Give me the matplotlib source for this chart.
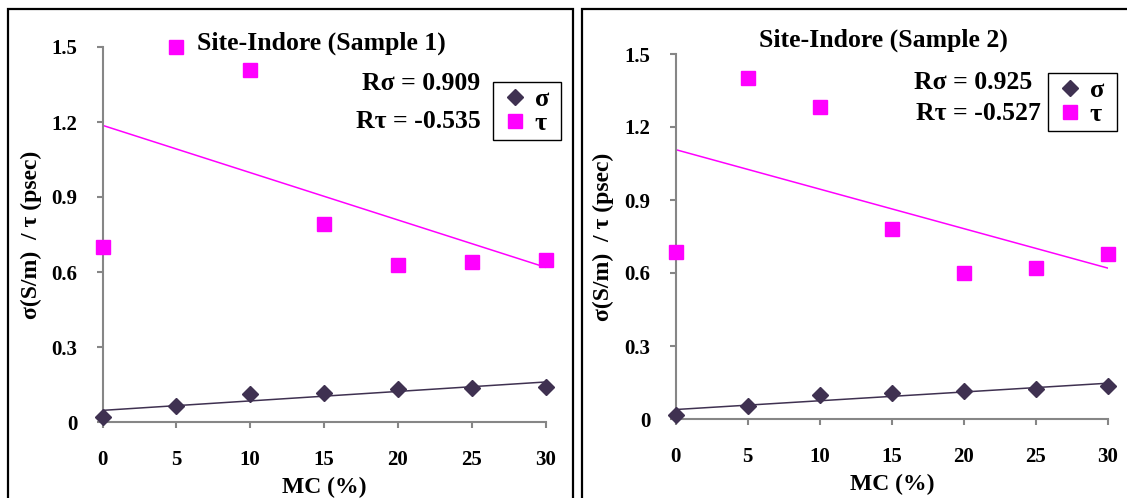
import numpy as np
import matplotlib
matplotlib.use("Agg")
import matplotlib.pyplot as plt
from matplotlib.patches import Rectangle
from matplotlib.lines import Line2D

plt.rcParams['font.family'] = ['Liberation Serif', 'DejaVu Serif']
plt.rcParams['font.weight'] = 'bold'

mc = [0, 5, 10, 15, 20, 25, 30]
sigma1 = [0.021, 0.063, 0.111, 0.117, 0.133, 0.137, 0.141]
tau1 = [0.70, 1.50, 1.41, 0.79, 0.63, 0.64, 0.65]
sigma2 = [0.018, 0.055, 0.099, 0.106, 0.114, 0.123, 0.136]
tau2 = [0.688, 1.40, 1.281, 0.780, 0.599, 0.619, 0.678]
titles = ["Site-Indore (Sample 1)", "Site-Indore (Sample 2)"]
r_sigma = ["R\u03c3 = 0.909", "R\u03c3 = 0.925"]
r_tau = ["R\u03c4 = -0.535", "R\u03c4 = -0.527"]
legend_labels = ["\u03c3 ", "\u03c4 "]
yticks = [0, 0.3, 0.6, 0.9, 1.2, 1.5]
yticklabels = ["0", "0.3", "0.6", "0.9", "1.2", "1.5"]
xticks = [0, 5, 10, 15, 20, 25, 30]

W, H = 1127, 498
fig = plt.figure(figsize=(W / 100, H / 100), dpi=100)

SIG_C = '#3F3151'
TAU_C = '#FF00FF'
GRID_C = '#868686'

def fx(px):
    return px / W

def fy(py):
    return 1 - py / H

panels = [
    dict(ax=(102.5, 422, 545.5, 47), sigma=sigma1, tau=tau1, title_xy=(321, 43),
         rs_xy=(480, 84), rt_xy=(481, 122), leg_xy=(492.7, 82), ylab_x=31,
         border=(8, 9, 573)),
    dict(ax=(675.5, 419, 1108, 54), sigma=sigma2, tau=tau2, title_xy=(883.5, 40),
         rs_xy=(1032, 82), rt_xy=(1041, 114), leg_xy=(1048, 73), ylab_x=603,
         border=(582, 9, 1140)),
]

FS_TICK = 15
FS_TITLE = 18.5
FS_R = 18.5
FS_LAB = 17
FS_LEG = 19

for i, p in enumerate(panels):
    x0, y0, x1, y1 = p['ax']
    ax = fig.add_axes([fx(x0), fy(y0), (x1 - x0) / W, (y0 - y1) / H])
    ax.set_xlim(0, 30)
    ax.set_ylim(0, 1.5)
    ax.patch.set_alpha(0)
    for s in ['top', 'right']:
        ax.spines[s].set_visible(False)
    for s in ['left', 'bottom']:
        ax.spines[s].set_color(GRID_C)
        ax.spines[s].set_linewidth(1.5)
    ax.set_xticks(xticks)
    ax.set_xticklabels([str(v) for v in xticks], fontsize=FS_TICK, fontweight='bold')
    ax.set_yticks(yticks)
    ax.set_yticklabels(yticklabels, fontsize=FS_TICK, fontweight='bold')
    ax.tick_params(axis='x', direction='out', length=4, width=1.5, color=GRID_C, pad=16)
    ax.tick_params(axis='y', direction='out', length=4, width=1.5, color=GRID_C, pad=14)

    xs = np.array(mc, dtype=float)
    # trend lines
    for ys, c in [(p['tau'], TAU_C), (p['sigma'], SIG_C)]:
        k, b = np.polyfit(xs, np.array(ys), 1)
        ax.plot([0, 30], [b, b + 30 * k], color=c, lw=1.1, zorder=2)
    ax.plot(mc, p['sigma'], 'D', color=SIG_C, ms=8.5, mec=SIG_C, clip_on=False, zorder=3)
    ax.plot(mc, p['tau'], 's', color=TAU_C, ms=10, mec=TAU_C, clip_on=False, zorder=3)

    ax.set_xlabel("MC (%)", fontsize=FS_LAB, fontweight='bold', labelpad=5)

    fig.text(fx(p['ylab_x']), fy((y0 + y1) / 2), "\u03c3(S/m)  / \u03c4 (psec)", rotation=90,
             ha='center', va='center', fontsize=FS_LAB, fontweight='bold')
    fig.text(fx(p['title_xy'][0]), fy(p['title_xy'][1]), titles[i], ha='center', va='center',
             fontsize=FS_TITLE, fontweight='bold')
    fig.text(fx(p['rs_xy'][0]), fy(p['rs_xy'][1]), r_sigma[i], ha='right', va='center',
             fontsize=FS_R, fontweight='bold')
    fig.text(fx(p['rt_xy'][0]), fy(p['rt_xy'][1]), r_tau[i], ha='right', va='center',
             fontsize=FS_R, fontweight='bold')

    handles = [Line2D([], [], marker='D', ls='', color=SIG_C, ms=8),
               Line2D([], [], marker='s', ls='', color=TAU_C, ms=10)]
    leg = fig.legend(handles, legend_labels, loc='upper left',
                     bbox_to_anchor=(fx(p['leg_xy'][0]), fy(p['leg_xy'][1])),
                     frameon=True, fancybox=False, edgecolor='black', framealpha=1,
                     prop=dict(family=['Liberation Serif', 'DejaVu Serif'], weight='bold', size=FS_LEG),
                     handlelength=1.3, handletextpad=0.1, borderpad=0.2, labelspacing=0.02,
                     borderaxespad=0)
    leg.get_frame().set_linewidth(1.0)

    bx0, by0, bx1 = p['border']
    fig.add_artist(Rectangle((fx(bx0), -0.1), (bx1 - bx0) / W, fy(by0) + 0.1,
                             transform=fig.transFigure, fill=False, ec='black', lw=1.6,
                             clip_on=False))

fig.savefig("out.png", dpi=100)
